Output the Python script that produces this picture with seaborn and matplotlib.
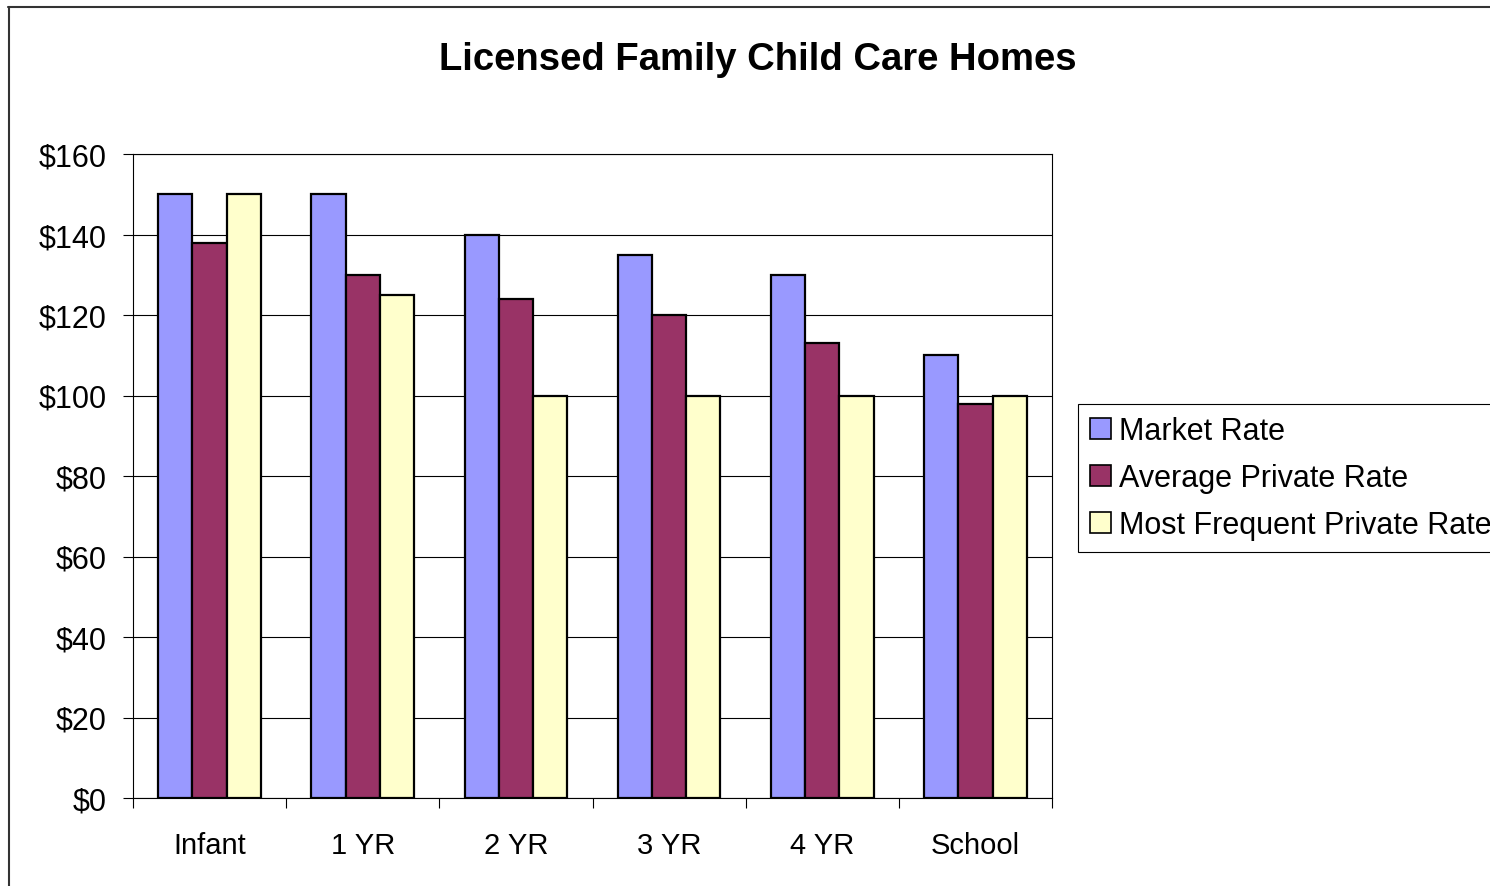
import numpy as np
import pandas as pd
import matplotlib
matplotlib.use("Agg")
import matplotlib.pyplot as plt
import seaborn as sns
from matplotlib.lines import Line2D
from matplotlib.patches import Patch

# data
ages = ["Infant", "1 YR", "2 YR", "3 YR", "4 YR", "School"]
market_rate = [150, 150, 140, 135, 130, 110]
average_private_rate = [138, 130, 124, 120, 113, 98]
most_frequent_rate = [150, 125, 100, 100, 100, 100]
series_names = ["Market Rate", "Average Private Rate", "Most Frequent Private Rate"]
colors = ["#9999FF", "#993366", "#FFFFCC"]
y_ticks = [0, 20, 40, 60, 80, 100, 120, 140, 160]
title = "Licensed Family Child Care Homes"

df = pd.DataFrame({
    "age": ages * 3,
    "series": [series_names[0]] * 6 + [series_names[1]] * 6 + [series_names[2]] * 6,
    "rate": market_rate + average_private_rate + most_frequent_rate,
})

sns.set_style("white")
plt.rcParams["font.family"] = ["Liberation Sans", "DejaVu Sans"]
plt.rcParams["text.color"] = "black"
plt.rcParams["xtick.color"] = "black"
plt.rcParams["ytick.color"] = "black"

W, H = 1490, 887
fig = plt.figure(figsize=(W / 100, H / 100), dpi=100)
ax = fig.add_axes([133 / W, 1 - 799 / H, (1052 - 133) / W, (799 - 155) / H])

sns.barplot(data=df, x="age", y="rate", hue="series", order=ages,
            hue_order=series_names, palette=colors, saturation=1, width=0.67,
            edgecolor="black", linewidth=1.6, errorbar=None,
            legend=False, ax=ax)

ax.set_xlim(-0.5, 5.5)
ax.set_ylim(0, 160)
ax.set_yticks(y_ticks)
ax.set_yticklabels([f"${v}" for v in y_ticks])
ax.set_xlabel("")
ax.set_ylabel("")

# gridlines behind bars
ax.yaxis.grid(True, color="black", linewidth=0.8)
ax.set_axisbelow(True)

ax.tick_params(axis="y", direction="out", length=7, width=0.8, pad=12,
               labelsize=22, left=True, colors="black")
ax.set_xticks(range(len(ages)))
ax.tick_params(axis="x", which="major", length=0, pad=24, labelsize=21,
               colors="black")
ax.set_xticks(np.arange(-0.5, len(ages), 1), minor=True)
ax.tick_params(axis="x", which="minor", direction="out", length=7,
               width=0.8, bottom=True, colors="black")

for sp in ax.spines.values():
    sp.set_visible(True)
    sp.set_color("black")
    sp.set_linewidth(0.8)

fig.text(758 / W, 1 - 60 / H, title, ha="center", va="center",
         fontsize=27.5, fontweight="bold", color="black")

handles = [Patch(facecolor=c, edgecolor="black", linewidth=1.2) for c in colors]
leg = fig.legend(handles, series_names, loc="upper left",
                 bbox_to_anchor=(1078 / W, 1 - 405 / H),
                 bbox_transform=fig.transFigure, frameon=True, fancybox=False,
                 edgecolor="black", framealpha=1, fontsize=22,
                 handlelength=0.68, handleheight=0.68, handletextpad=0.25,
                 labelspacing=0.55, borderpad=0.4, borderaxespad=0)
leg.get_frame().set_linewidth(0.8)

# outer chart-area border (top and left edges are visible)
fig.add_artist(Line2D([8 / W, 1], [1 - 7.5 / H] * 2, transform=fig.transFigure,
                      color="#333333", linewidth=1.5))
fig.add_artist(Line2D([8.5 / W] * 2, [0, 1 - 7.5 / H], transform=fig.transFigure,
                      color="#333333", linewidth=1.5))

fig.savefig("out.png", dpi=100)
